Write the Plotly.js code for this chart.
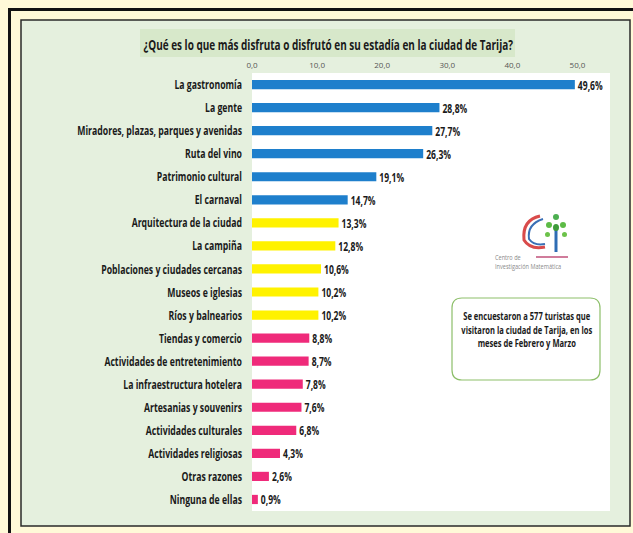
<!DOCTYPE html>
<html>
<head>
<meta charset="utf-8">
<script src="https://cdn.plot.ly/plotly-3.0.1.min.js"></script>
<style>html,body{margin:0;padding:0;background:#FFF9D8;}#chart{width:633px;height:533px;}</style>
</head>
<body>
<div id="chart"></div>
<script>
var categories = [
  "La gastronomía",
  "La gente",
  "Miradores, plazas, parques y avenidas",
  "Ruta del vino",
  "Patrimonio cultural",
  "El carnaval",
  "Arquitectura de la ciudad",
  "La campiña",
  "Poblaciones y ciudades cercanas",
  "Museos e iglesias",
  "Ríos y balnearios",
  "Tiendas y comercio",
  "Actividades de entretenimiento",
  "La infraestructura hotelera",
  "Artesanias y souvenirs",
  "Actividades culturales",
  "Actividades religiosas",
  "Otras razones",
  "Ninguna de ellas"
];
var percentages = [49.6, 28.8, 27.7, 26.3, 19.1, 14.7, 13.3, 12.8, 10.6, 10.2, 10.2, 8.8, 8.7, 7.8, 7.6, 6.8, 4.3, 2.6, 0.9];
var tickValues = [0, 10, 20, 30, 40, 50];
var titleText = "¿Qué es lo que más disfruta o disfrutó en su estadía en la ciudad de Tarija?";
var noteLines = ["Se encuestaron a 577 turistas que", "visitaron la ciudad de Tarija, en los", "meses de Febrero y Marzo"];
var logoLines = ["Centro de", "Investigación Matemática"];

var FONT = '"Open Sans", "Noto Sans", "Liberation Sans", sans-serif';
var L = 252, R = 610, T = 73, B = 511;
function X(px){ return (px - L) / (R - L); }
function Y(py){ return (B - py) / (B - T); }

var colors = percentages.map(function(v, i){
  return i < 6 ? '#1E7FCC' : (i < 11 ? '#FFF200' : '#EF2A7A');
});
var labels = percentages.map(function(v){ return v.toFixed(1).replace('.', ',') + '%'; });

function rrect(x0, y0, x1, y1, r){
  var rx = r / (R - L), ry = r / (B - T);
  var a = X(x0), b = X(x1), c = Y(y0), d = Y(y1);
  return 'M' + (a+rx) + ',' + c + ' L' + (b-rx) + ',' + c + ' Q' + b + ',' + c + ' ' + b + ',' + (c-ry) +
    ' L' + b + ',' + (d+ry) + ' Q' + b + ',' + d + ' ' + (b-rx) + ',' + d +
    ' L' + (a+rx) + ',' + d + ' Q' + a + ',' + d + ' ' + a + ',' + (d+ry) +
    ' L' + a + ',' + (c-ry) + ' Q' + a + ',' + c + ' ' + (a+rx) + ',' + c + ' Z';
}

var trace = {
  type: 'bar',
  orientation: 'h',
  y: categories,
  x: percentages,
  marker: {color: colors, line: {width: 0}},
  text: labels,
  textposition: 'outside',
  constraintext: 'none',
  textfont: {family: FONT, size: 13, color: '#1a1a1a', weight: 'bold'},
  cliponaxis: false,
  hoverinfo: 'skip'
};

var shapes = [
  {type: 'rect', xref: 'paper', yref: 'paper', x0: X(9.5), x1: X(660), y0: Y(9.5), y1: Y(560),
   line: {color: '#111111', width: 3}, fillcolor: 'rgba(0,0,0,0)', layer: 'below'},
  {type: 'rect', xref: 'paper', yref: 'paper', x0: X(21), x1: X(630), y0: Y(20), y1: Y(526),
   line: {color: '#2a2a2a', width: 1.5}, fillcolor: '#E5F0DE', layer: 'below'},
  {type: 'rect', xref: 'paper', yref: 'paper', x0: X(140), x1: X(515), y0: Y(29), y1: Y(57),
   line: {width: 0}, fillcolor: '#D7E8CA', layer: 'below'},
  {type: 'rect', xref: 'paper', yref: 'paper', x0: 0, x1: 1, y0: 0, y1: 1,
   line: {width: 0}, fillcolor: '#FFFFFF', layer: 'below'},
  {type: 'path', xref: 'paper', yref: 'paper', path: rrect(452, 298, 600, 380, 10),
   line: {color: '#8DBF6A', width: 1.2}, fillcolor: '#FFFFFF', layer: 'below'},
  // logo: coloured arc
  {type: 'path', xref: 'paper', yref: 'paper',
   path: 'M' + X(540) + ',' + Y(216) + ' Q' + X(522) + ',' + Y(220) + ' ' + X(524) + ',' + Y(240) + ' Q' + X(530) + ',' + Y(250) + ' ' + X(545) + ',' + Y(247),
   line: {color: '#D94B4B', width: 3}, layer: 'above'},
  {type: 'path', xref: 'paper', yref: 'paper',
   path: 'M' + X(543) + ',' + Y(219) + ' Q' + X(527) + ',' + Y(224) + ' ' + X(529) + ',' + Y(239) + ' Q' + X(534) + ',' + Y(246) + ' ' + X(545) + ',' + Y(244),
   line: {color: '#3A6FB5', width: 2}, layer: 'above'},
  // logo: tree
  {type: 'line', xref: 'paper', yref: 'paper', x0: X(556), x1: X(556), y0: Y(230), y1: Y(252),
   line: {color: '#2E6DB4', width: 3}, layer: 'above'},
  {type: 'circle', xref: 'paper', yref: 'paper', x0: X(553), x1: X(559), y0: Y(214), y1: Y(220),
   line: {width: 0}, fillcolor: '#4CAF50', layer: 'above'},
  {type: 'circle', xref: 'paper', yref: 'paper', x0: X(546), x1: X(552), y0: Y(222), y1: Y(228),
   line: {width: 0}, fillcolor: '#5DBB46', layer: 'above'},
  {type: 'circle', xref: 'paper', yref: 'paper', x0: X(560), x1: X(566), y0: Y(222), y1: Y(228),
   line: {width: 0}, fillcolor: '#5DBB46', layer: 'above'},
  {type: 'circle', xref: 'paper', yref: 'paper', x0: X(553), x1: X(559), y0: Y(224), y1: Y(231),
   line: {width: 0}, fillcolor: '#3E9B3A', layer: 'above'},
  {type: 'circle', xref: 'paper', yref: 'paper', x0: X(545), x1: X(550), y0: Y(232), y1: Y(237),
   line: {width: 0}, fillcolor: '#6CC24A', layer: 'above'},
  {type: 'circle', xref: 'paper', yref: 'paper', x0: X(562), x1: X(567), y0: Y(232), y1: Y(237),
   line: {width: 0}, fillcolor: '#6CC24A', layer: 'above'},
  {type: 'line', xref: 'paper', yref: 'paper', x0: X(536), x1: X(568), y0: Y(257), y1: Y(257),
   line: {color: '#C0507A', width: 1.5}, layer: 'above'}
];

var annotations = [
  {xref: 'paper', yref: 'paper', x: X(327.5), y: Y(44), xanchor: 'center', yanchor: 'middle',
   text: titleText, showarrow: false,
   font: {family: FONT, size: 15, color: '#1a1a1a', weight: 'bold'}},
  {xref: 'paper', yref: 'paper', x: X(527), y: Y(329.5), xanchor: 'center', yanchor: 'middle',
   text: noteLines.join('<br>'), showarrow: false, align: 'center',
   font: {family: FONT, size: 10.5, color: '#1a1a1a', weight: 'bold'}},
  {xref: 'paper', yref: 'paper', x: X(493), y: Y(261.5), xanchor: 'left', yanchor: 'middle',
   text: logoLines.join('<br>'), showarrow: false, align: 'left',
   font: {family: FONT, size: 7, color: '#8a8a8a'}}
];

var layout = {
  width: 633, height: 533,
  margin: {l: L, r: 633 - R, t: T, b: 533 - B, pad: 0},
  paper_bgcolor: '#FFF9D8',
  plot_bgcolor: 'rgba(0,0,0,0)',
  separators: ',.',
  showlegend: false,
  bargap: 0.6,
  xaxis: {
    side: 'top', range: [0, 55], tickvals: tickValues, tickformat: '.1f', ticksuffix: '%',
    showgrid: false, zeroline: false, showline: false, ticks: '',
    tickfont: {family: FONT, size: 8, color: '#555555'}, ticklabelstandoff: 2, fixedrange: true
  },
  yaxis: {
    autorange: 'reversed', showgrid: false, zeroline: false, showline: false, ticks: '',
    tickfont: {family: FONT, size: 13, color: '#1a1a1a', weight: 'bold'}, ticklabelstandoff: 9, fixedrange: true
  },
  shapes: shapes,
  annotations: annotations
};

// Compress text horizontally (about its anchor edge) to mimic the narrow lettering of the reference
function squeeze(nodes, f, keep){
  nodes.forEach(function(el){
    var bb = el.getBBox();
    if (!bb.width) return;
    var ax = keep === 'left' ? bb.x : (keep === 'right' ? bb.x + bb.width : bb.x + bb.width / 2);
    var tr = el.getAttribute('transform') || '';
    el.setAttribute('transform', tr + ' translate(' + ax + ',0) scale(' + f + ',1) translate(' + (-ax) + ',0)');
  });
}
function factorFor(nodes, str, target){
  for (var i = 0; i < nodes.length; i++){
    if (nodes[i].textContent === str){ return target / nodes[i].getBBox().width; }
  }
  return 1;
}
function widthScale(node, target){ return target / node.getBBox().width; }

Plotly.newPlot('chart', [trace], layout, {displayModeBar: false, staticPlot: true}).then(function(gd){
  var yt = Array.prototype.slice.call(gd.querySelectorAll('.ytick text'));
  squeeze(yt, factorFor(yt, categories[2], 165), 'right');
  var xt = Array.prototype.slice.call(gd.querySelectorAll('.xtick text'));
  squeeze(xt, factorFor(xt, '50,0%', 18), 'center');
  var bt = Array.prototype.slice.call(gd.querySelectorAll('.bartext'));
  squeeze(bt, factorFor(bt, labels[0], 25), 'left');
  var at = Array.prototype.slice.call(gd.querySelectorAll('.annotation-text'));
  squeeze([at[0]], widthScale(at[0], 370), 'center');
  squeeze([at[1]], widthScale(at[1], 131), 'center');
  squeeze([at[2]], 0.8, 'left');
});
</script>
</body>
</html>
